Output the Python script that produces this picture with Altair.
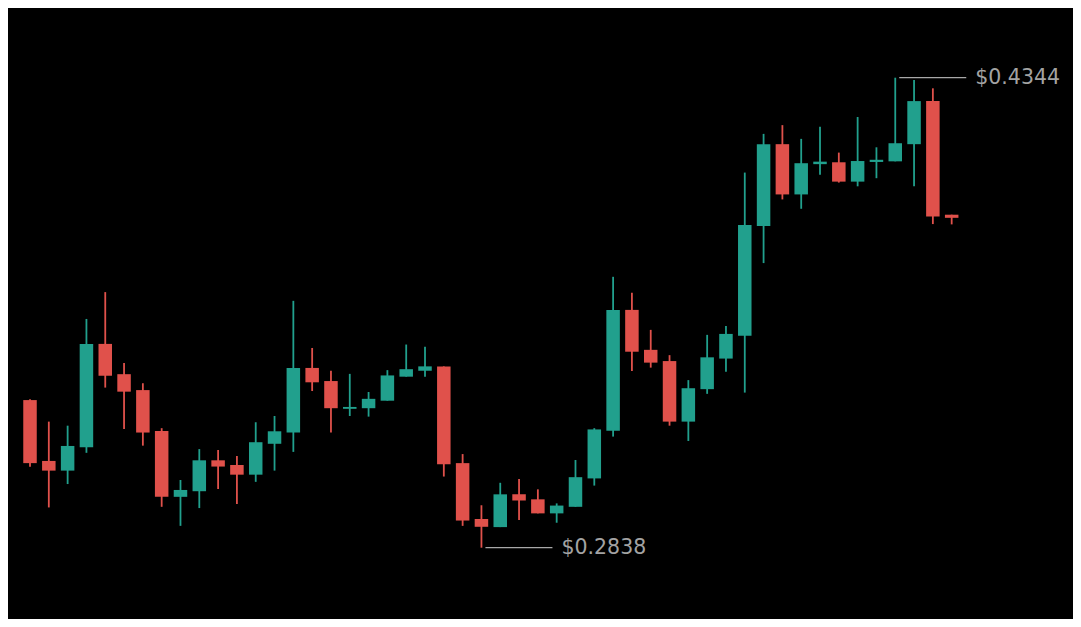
import altair as alt
import pandas as pd

opens  = [0.3311, 0.3116, 0.3085, 0.3160, 0.3491, 0.3394, 0.3343, 0.3212, 0.3001, 0.3019,
          0.3118, 0.3103, 0.3072, 0.3171, 0.3207, 0.3414, 0.3372, 0.3283, 0.3285, 0.3309,
          0.3386, 0.3405, 0.3419, 0.3109, 0.2930, 0.2904, 0.3009, 0.2993, 0.2948, 0.2969,
          0.3060, 0.3213, 0.3600, 0.3472, 0.3436, 0.3242, 0.3346, 0.3444, 0.3517, 0.3869,
          0.4131, 0.3970, 0.4067, 0.4073, 0.4011, 0.4074, 0.4076, 0.4131, 0.4269, 0.3905]
highs  = [0.3314, 0.3242, 0.3229, 0.3571, 0.3657, 0.3430, 0.3365, 0.3221, 0.3055, 0.3154,
          0.3151, 0.3132, 0.3240, 0.3260, 0.3629, 0.3478, 0.3405, 0.3395, 0.3337, 0.3407,
          0.3489, 0.3482, 0.3419, 0.3138, 0.2974, 0.3046, 0.3058, 0.3025, 0.2980, 0.3119,
          0.3221, 0.3706, 0.3655, 0.3536, 0.3455, 0.3375, 0.3520, 0.3548, 0.4040, 0.4164,
          0.4192, 0.4148, 0.4187, 0.4104, 0.4218, 0.4121, 0.4344, 0.4337, 0.4310, 0.3905]
lows   = [0.3097, 0.2967, 0.3042, 0.3142, 0.3351, 0.3218, 0.3165, 0.2969, 0.2908, 0.2965,
          0.3026, 0.2978, 0.3049, 0.3085, 0.3145, 0.3340, 0.3207, 0.3260, 0.3258, 0.3309,
          0.3386, 0.3386, 0.3066, 0.2908, 0.2838, 0.2904, 0.2927, 0.2948, 0.2918, 0.2969,
          0.3037, 0.3194, 0.3404, 0.3415, 0.3229, 0.3180, 0.3331, 0.3402, 0.3335, 0.3750,
          0.3954, 0.3924, 0.4033, 0.4008, 0.3996, 0.4022, 0.4076, 0.3996, 0.3875, 0.3874]
closes = [0.3109, 0.3085, 0.3164, 0.3491, 0.3389, 0.3338, 0.3207, 0.3001, 0.3023, 0.3118,
          0.3098, 0.3072, 0.3176, 0.3211, 0.3414, 0.3368, 0.3285, 0.3289, 0.3315, 0.3390,
          0.3410, 0.3419, 0.3105, 0.2925, 0.2905, 0.3009, 0.2989, 0.2948, 0.2973, 0.3064,
          0.3217, 0.3600, 0.3466, 0.3431, 0.3242, 0.3349, 0.3448, 0.3523, 0.3872, 0.4131,
          0.3970, 0.4070, 0.4075, 0.4011, 0.4077, 0.4081, 0.4134, 0.4269, 0.3899, 0.3895]

ann_index = [24, 46]
ann_price = [0.2838, 0.4344]
ann_label = ["$0.2838", "$0.4344"]

UP = "#21a08d"
DOWN = "#e0514b"

df = pd.DataFrame({
    "i": list(range(len(opens))),
    "open": opens, "high": highs, "low": lows, "close": closes,
})
ann = pd.DataFrame({"i": ann_index, "price": ann_price, "label": ann_label})

xs = alt.Scale(domain=[-1.17, 55.45], nice=False, zero=False, padding=0)
ys = alt.Scale(domain=[0.260954, 0.456734], nice=False, zero=False, padding=0)

color = alt.condition("datum.open <= datum.close", alt.value(UP), alt.value(DOWN))

base = alt.Chart(df)

wicks = base.mark_rule(strokeWidth=1.8).encode(
    x=alt.X("i:Q", scale=xs, axis=None),
    y=alt.Y("low:Q", scale=ys, axis=None),
    y2="high:Q",
    color=color,
)

bodies = base.mark_bar(size=13.5).encode(
    x=alt.X("i:Q", scale=xs, axis=None),
    y=alt.Y("open:Q", scale=ys, axis=None),
    y2="close:Q",
    color=color,
)

ann_lines = alt.Chart(ann).mark_rule(color="#a8a8a8", strokeWidth=1.3, xOffset=4, x2Offset=71).encode(
    x=alt.X("i:Q", scale=xs, axis=None),
    x2="i:Q",
    y=alt.Y("price:Q", scale=ys, axis=None),
)

ann_text = alt.Chart(ann).mark_text(
    align="left", baseline="middle", dx=80, fontSize=20.5,
    font="DejaVu Sans", color="#a3a3a3",
).encode(
    x=alt.X("i:Q", scale=xs, axis=None),
    y=alt.Y("price:Q", scale=ys, axis=None),
    text="label:N",
)

chart = alt.layer(wicks, bodies, ann_lines, ann_text).properties(
    width=1065, height=611,
    background="#000000",
    padding=0,
    autosize=alt.AutoSizeParams(type="none"),
).configure_view(stroke=None)

chart.save("out.html", embed_options={"renderer": "svg", "actions": False})
